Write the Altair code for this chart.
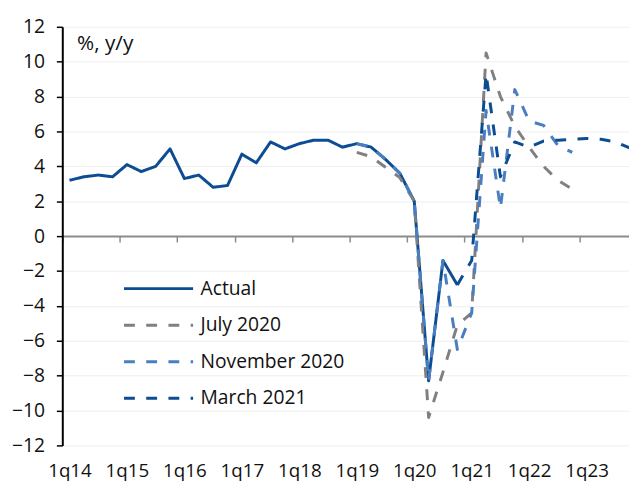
import altair as alt
import pandas as pd

# ---- data ----
years = list(range(14, 24))
quarters = [f"{q}q{y}" for y in years for q in range(1, 5)]  # 1q14 .. 4q23

series_names = ["Actual", "July 2020", "November 2020", "March 2021"]
series_colors = ["#0B4C93", "#808080", "#4A7EC0", "#0B4C93"]

actual_start = "1q14"
actual = [3.2, 3.4, 3.5, 3.4, 4.1, 3.7, 4.0, 5.0, 3.3, 3.5, 2.8, 2.9,
          4.7, 4.2, 5.4, 5.0, 5.3, 5.5, 5.5, 5.1, 5.3, 5.1, 4.4, 3.6,
          2.0, -8.3, -1.4, -2.8]

july_start = "1q19"
july2020 = [4.8, 4.55, 3.95, 3.35, 2.0, -10.4, -7.8, -5.1,
            -4.4, 10.5, 8.0, 6.3, 5.1, 4.0, 3.2, 2.7]

nov_start = "1q19"
nov2020 = [5.3, 5.1, 4.4, 3.6, 2.0, -8.3, -1.4, -6.5,
           -4.4, 7.2, 1.6, 8.4, 6.6, 6.35, 5.2, 4.8]

mar_start = "4q20"
mar2021 = [-2.8, -1.4, 9.3, 3.4, 5.4, 5.1, 5.45, 5.5, 5.55,
           5.6, 5.55, 5.4, 5.05]

y_ticks = list(range(-12, 13, 2))
x_label_idx = list(range(0, 37, 4))

rows = []
for name, start, vals in [("Actual", actual_start, actual),
                          ("July 2020", july_start, july2020),
                          ("November 2020", nov_start, nov2020),
                          ("March 2021", mar_start, mar2021)]:
    s = quarters.index(start)
    for k, v in enumerate(vals):
        rows.append({"series": name, "idx": s + k, "quarter": quarters[s + k], "value": v})
df = pd.DataFrame(rows)

FONT = "Open Sans"
W, H = 574, 424
step = W / 39.45

x_enc = alt.X(
    "idx:Q",
    scale=alt.Scale(domain=[-0.5, 38.95], nice=False, zero=False),
    axis=alt.Axis(
        values=x_label_idx,
        labelExpr="'1q' + (14 + datum.value / 4)",
        tickOffset=-step / 2,
        labelOffset=step / 2,
        offset=-H / 2,
        domainColor="#8c8c8c", domainWidth=2,
        tickColor="#8c8c8c", tickWidth=1.5, tickSize=6,
        labelPadding=H / 2 + 10,
        labelFont=FONT, labelFontSize=19, labelColor="#111111",
        grid=False, title=None,
    ),
)
y_enc = alt.Y(
    "value:Q",
    scale=alt.Scale(domain=[-12, 12], nice=False),
    axis=alt.Axis(
        values=y_ticks,
        domainColor="#000000", domainWidth=2,
        tickColor="#000000", tickWidth=1.5, tickSize=6,
        labelPadding=12,
        labelFont=FONT, labelFontSize=19.5, labelColor="#111111",
        grid=True, gridColor="#eeeeee", gridWidth=1,
        title=None,
    ),
)
legend = alt.Legend(
    orient="none", legendX=61, legendY=247, title=None,
    symbolType="stroke", symbolSize=70 * 70, symbolStrokeWidth=3,
    clipHeight=36.4, rowPadding=0, padding=0,
    labelFont=FONT, labelFontSize=19.5, labelColor="#111111",
    labelOffset=6,
)
color_enc = alt.Color(
    "series:N",
    scale=alt.Scale(domain=series_names, range=series_colors),
    legend=legend,
)
dash_enc = alt.StrokeDash(
    "series:N",
    scale=alt.Scale(domain=series_names,
                    range=[[1, 0], [11, 11.5], [11, 11.5], [11, 11.5]]),
    legend=legend,
)

base = alt.Chart(df).mark_line(strokeWidth=3, strokeJoin="round", clip=True).encode(
    x=x_enc, y=y_enc, color=color_enc, strokeDash=dash_enc, order="idx:Q"
)

layers = [base.transform_filter(alt.datum.series == s) for s in series_names]

chart = alt.layer(*layers).properties(
    width=W, height=H,
    title=alt.TitleParams(
        "%, y/y", anchor="start", frame="group", dx=15, dy=55, offset=0,
        baseline="alphabetic",
        font=FONT, fontSize=21, fontWeight="normal", color="#111111",
    ),
    autosize=alt.AutoSizeParams(type="none"),
    padding={"left": 55, "top": 16, "right": 0, "bottom": 33},
).configure_view(stroke=None)

chart.save("out.html", embed_options={"renderer": "svg", "actions": False})
